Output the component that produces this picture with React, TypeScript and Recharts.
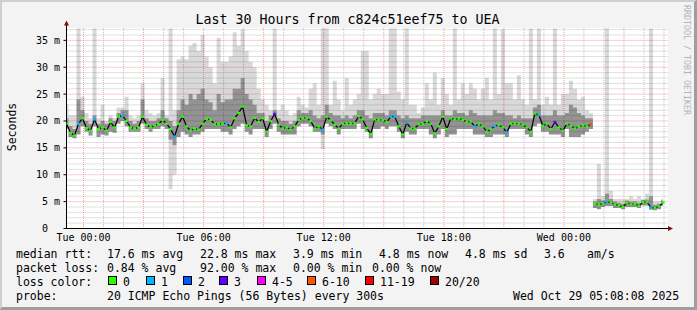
import React from 'react';
import { ComposedChart, Area, Line, XAxis, YAxis, CartesianGrid } from 'recharts';

// time axis: hours relative to Tue 00:00, one sample every 12 minutes
const START_HOUR = -0.85;
const STEP_HOURS = 0.2;
const GAP_INDEX = 132; // after the gap the target answers at ~4.5 ms

const medianMs = [
  19.5, 17.8, 17.3, 19.5, 20.5, 18.7, 18.2, 20.3, 18.5, 18.8,
  18.2, 19.8, 18.8, 20.8, 21.0, 20.0, 18.8, 18.6, 18.8, 20.8,
  19.3, 18.8, 19.2, 19.4, 20.2, 19.5, 18.5, 17.1, 19.5, 20.8,
  19.0, 18.2, 18.6, 18.4, 19.5, 20.4, 20.2, 19.4, 19.4, 19.5,
  19.6, 18.8, 20.5, 21.5, 22.7, 19.2, 19.0, 20.6, 19.8, 20.5,
  18.0, 20.0, 21.3, 19.3, 18.6, 18.8, 18.4, 19.0, 20.2, 20.6,
  20.5, 20.0, 18.6, 19.0, 18.4, 20.8, 20.1, 19.3, 18.6, 19.5,
  19.6, 19.5, 19.6, 20.9, 20.3, 18.7, 17.6, 20.3, 20.2, 20.2,
  19.8, 20.8, 20.8, 19.0, 17.5, 19.7, 18.6, 18.6, 19.4, 19.4,
  20.0, 19.5, 17.7, 19.0, 20.8, 18.5, 20.5, 20.3, 20.5, 20.2,
  19.8, 19.9, 19.0, 19.5, 19.0, 18.0, 18.5, 19.0, 19.3, 18.8,
  17.9, 19.5, 19.5, 19.5, 19.3, 18.8, 18.0, 21.4, 21.1, 19.1,
  19.5, 18.5, 19.8, 18.8, 18.2, 19.5, 19.1, 18.6, 18.9, 19.2,
  19.0, 19.4, 4.6, 4.4, 4.7, 4.9, 4.8, 4.5, 4.3, 4.0,
  4.8, 4.5, 4.6, 4.2, 4.9, 4.9, 3.9, 3.8, 4.1, 4.8,
];

// top of the lightest smoke (slowest ping)
const maxMs = [
  23, 21, 21, 37.2, 24.5, 21.5, 20.5, 37.2, 20.5, 23,
  20, 21, 20.5, 22.5, 22.5, 24.5, 21, 20.5, 21, 27,
  22, 21.5, 21, 21.5, 28, 21, 37.2, 22, 31.5, 32,
  31.5, 34, 34.5, 33, 36, 32, 30, 27, 35.5, 31,
  31, 32, 36.5, 34, 37, 33, 31, 30, 26, 24,
  23, 22, 37.2, 22, 23, 22, 21, 21.5, 24.5, 23,
  22.5, 26, 27, 23, 37.2, 37.2, 23, 27.5, 24, 22,
  28, 23, 24, 25, 33, 33, 24, 25, 26, 25,
  25, 37.2, 37.2, 25.5, 24, 37.2, 23, 23, 21.5, 22.5,
  27, 24, 29, 23, 28, 25, 23, 37.2, 24, 27,
  25, 27, 26, 24, 26, 28, 24, 37.2, 25, 37,
  27, 27, 24, 28.5, 24, 23, 37.2, 24, 37.2, 23,
  24.5, 23, 37.2, 23, 25, 25, 27.5, 26, 24, 24.5,
  22, 21.5, 5.5, 12, 6, 37.2, 7, 5.5, 5.5, 5.5,
  5.5, 6, 5.5, 6, 5.5, 6.5, 37.2, 5, 5, 5.5,
];

// top of the dark smoke core
const upperMs = [
  20.5, 19, 18.5, 24, 22, 20, 19.5, 21, 19.5, 20,
  19.5, 20.5, 20, 21.5, 22, 22, 20, 19.5, 20, 24,
  20.5, 20, 20, 20.5, 22, 20.5, 20, 19, 22, 24,
  23, 25, 24, 25, 26, 24, 23.5, 22, 25, 23.5,
  24, 24, 26, 26, 28, 25, 24, 23, 21.5, 21.5,
  20, 21, 22, 20.5, 20, 20, 19.5, 20, 22, 21.5,
  21.5, 22, 21, 20.5, 21, 23, 21.5, 21, 21, 20.5,
  21, 20.5, 21, 22, 22, 21, 20.5, 21.5, 21.5, 21.5,
  21, 22, 22, 21, 20.5, 21, 20.5, 20.5, 20.5, 21,
  21, 21, 21, 21, 22, 21, 21, 22, 21.5, 21.5,
  21, 22, 21.5, 21, 21, 21, 21, 22, 21.5, 21.5,
  21, 21, 20.5, 21, 20.5, 20.5, 20.5, 22.5, 23, 21,
  21, 21, 22, 21, 21, 21.5, 23, 22.5, 21.5, 21,
  20.5, 20.5, 5, 5.5, 5.2, 6.5, 5.5, 5, 4.8, 4.6,
  5.2, 5, 5, 4.8, 5.3, 5.4, 6, 4.4, 4.6, 5.2,
];

// bottom of the dark smoke core
const lowerMs = [
  18.5, 17, 16.8, 17.5, 19, 18, 17.3, 19, 17, 17.5,
  17.3, 18, 17.8, 19.5, 20, 19, 18, 18, 18, 19.5,
  18.5, 18, 18.5, 18.5, 19, 18.5, 16.5, 15.5, 17, 18,
  17.5, 17, 17.5, 17.5, 18, 18.5, 18.5, 18.5, 18.5, 18,
  18, 17.5, 18.5, 19, 19.5, 18, 17.5, 18.5, 18.5, 18.5,
  17, 18.5, 19.5, 18, 17.5, 17.5, 17.5, 17.5, 19, 19.5,
  19.5, 19, 18, 18, 17.5, 19.5, 19, 18.5, 17.5, 18.5,
  18.5, 18.5, 18.5, 19.5, 18.5, 18, 16.8, 18.5, 18.5, 19,
  18.5, 19, 19, 18, 16.8, 18, 17.5, 17.5, 18.5, 18.5,
  18.5, 17.5, 16.8, 17.5, 18.5, 17, 17.5, 17.5, 18.5, 18.5,
  18.5, 18.5, 17.5, 17.5, 17.5, 17, 17, 17.5, 17.5, 17.5,
  17, 18.5, 18.5, 18.5, 18.5, 17.5, 17, 19, 19.5, 18,
  18, 17.5, 17.5, 17.5, 17, 18.5, 17, 17, 17, 17.5,
  18, 18.5, 3.8, 3.6, 4, 4.2, 4.2, 3.8, 3.8, 3.6,
  4, 4, 4, 3.8, 4.3, 4.3, 3.5, 3.4, 3.6, 4.2,
];

// bottom of the lightest smoke (fastest ping)
const minMs = [
  18.5, 17, 16.8, 17.5, 19, 18, 17.3, 19, 17, 17.5,
  17.3, 18, 17.8, 19.5, 20, 19, 18, 18, 18, 19.5,
  18.5, 18, 18.5, 18.5, 19, 18.5, 7.3, 10, 17, 18,
  17.5, 17, 17.5, 17.5, 18, 18.5, 18.5, 18.5, 18.5, 18,
  18, 17.5, 18.5, 19, 19.5, 18, 17.5, 18.5, 18.5, 18.5,
  17, 18.5, 19.5, 18, 17.5, 17.5, 17.5, 17.5, 19, 19.5,
  19.5, 19, 18, 18, 14.8, 19.5, 19, 18.5, 17.5, 18.5,
  18.5, 18.5, 18.5, 19.5, 18.5, 18, 16.8, 18.5, 18.5, 19,
  18.5, 19, 19, 18, 16.8, 18, 17.5, 17.5, 18.5, 18.5,
  18.5, 17.5, 16.8, 17.5, 18.5, 17, 17.5, 17.5, 18.5, 18.5,
  18.5, 18.5, 17.5, 17.5, 17.5, 17, 17, 17.5, 17.5, 17.5,
  17, 18.5, 18.5, 18.5, 18.5, 17.5, 17, 19, 19.5, 18,
  18, 17.5, 17.5, 17.5, 17, 18.5, 17, 17, 17, 17.5,
  18, 18.5, 3.8, 3.6, 4, 4.2, 4.2, 3.8, 3.8, 3.6,
  4, 4, 4, 3.8, 4.3, 4.3, 3.5, 3.4, 3.6, 4.2,
];

// [sample index, loss bucket]
const lossMarks: [number, number][] = [
  [3, 1], [7, 1], [14, 1], [27, 1], [40, 1], [52, 3], [64, 1], [81, 1], [82, 1],
  [85, 1], [102, 1], [107, 1], [110, 1], [118, 1], [122, 3], [131, 5], [135, 1], [146, 1],
];

const lossBuckets = ['0', '1', '2', '3', '4-5', '6-10', '11-19', '20/20'];
const lossColors = ['#26ff00', '#00b8ff', '#0059ff', '#5e00ff', '#ff00ff', '#ff5500', '#ff0000', '#a10000'];
const lossLegendBoxX = [108, 146, 183, 219, 257, 307, 365, 430];

const xTickHours = [0, 6, 12, 18, 24];
const xTickLabels = ['Tue 00:00', 'Tue 06:00', 'Tue 12:00', 'Tue 18:00', 'Wed 00:00'];
const yTicks = [0, 5, 10, 15, 20, 25, 30, 35];

const minorXHours: number[] = [];
const majorXHours: number[] = [];
for (let h = 0; h <= 29; h++) (h % 3 === 0 ? majorXHours : minorXHours).push(h);
const minorYMs: number[] = [];
const majorYMs: number[] = [];
for (let v = 1; v <= 37; v++) (v % 5 === 0 ? majorYMs : minorYMs).push(v);

const lossByIndex = new Map<number, number>(lossMarks);
const rows = medianMs.map((m, i) => ({
  t: Number((START_HOUR + STEP_HOURS * i).toFixed(2)),
  light: [minMs[i], maxMs[i]],
  core: [lowerMs[i], upperMs[i]],
  medA: i < GAP_INDEX ? m : null,
  medB: i >= GAP_INDEX ? m : null,
  loss: lossByIndex.get(i) ?? 0,
}));

const FONT = '"DejaVu Sans Mono", "Liberation Mono", monospace';

const XTick = (props: any) => {
  const { x, payload } = props;
  const idx = xTickHours.indexOf(payload.value);
  return (
    <text x={x} y={241} textAnchor="middle" fontFamily={FONT} fontSize={10} fill="#000">
      {xTickLabels[idx]}
    </text>
  );
};

const YTick = (props: any) => {
  const { y, payload } = props;
  const v = payload.value;
  return (
    <text x={v === 0 ? 48 : 60} y={y + 3.5} textAnchor="end" fontFamily={FONT} fontSize={10} fill="#000">
      {v === 0 ? '0' : `${v} m`}
    </text>
  );
};

const lossDot = (props: any) => {
  const { cx, cy, payload, index } = props;
  if (cx == null || cy == null || payload == null) return <g key={`d${index}`} />;
  return <rect key={`d${index}`} x={cx - 1.5} y={cy - 1.2} width={3} height={2.4} fill={lossColors[payload.loss]} />;
};

const txt = (x: number, y: number, s: string, key: string) => (
  <text key={key} x={x} y={y} fontFamily={FONT} fontSize={11.5} fill="#000">{s}</text>
);

export default function App() {
  return (
    <div
      style={{
        position: 'absolute', left: 0, top: 0, width: 697, height: 310, boxSizing: 'border-box',
        background: '#f3f3f3', borderTop: '2px solid #cfcfcf', borderLeft: '2px solid #cfcfcf',
        borderRight: '3px solid #9e9e9e', borderBottom: '3px solid #9e9e9e', overflow: 'hidden',
      }}
    >
      <div style={{ position: 'absolute', left: -2, top: -2 }}>
        <ComposedChart width={697} height={310} data={rows} margin={{ top: 28, right: 29, bottom: 61.5, left: 0 }}>
          <CartesianGrid
            fill="#ffffff"
            stroke="#c2c2c2"
            strokeDasharray="1 1"
            horizontalValues={minorYMs}
            verticalValues={minorXHours}
          />
          <CartesianGrid
            fill="none"
            stroke="#eca0a0"
            strokeDasharray="1 1"
            horizontalValues={majorYMs}
            verticalValues={majorXHours}
          />
          <XAxis
            dataKey="t"
            type="number"
            domain={[-0.85, 29.2]}
            ticks={xTickHours}
            allowDataOverflow
            height={20}
            axisLine={{ stroke: '#000' }}
            tickLine={false}
            tick={XTick}
            interval={0}
          />
          <YAxis
            type="number"
            domain={[0, 37.3]}
            ticks={yTicks}
            allowDataOverflow
            width={66.5}
            axisLine={{ stroke: '#000' }}
            tickLine={{ stroke: '#000' }}
            tickSize={3}
            tick={YTick}
            interval={0}
          />
          <Area dataKey="light" type="step" stroke="none" fill="#000000" fillOpacity={0.15} isAnimationActive={false} dot={false} activeDot={false} />
          <Area dataKey="core" type="step" stroke="none" fill="#000000" fillOpacity={0.32} isAnimationActive={false} dot={false} activeDot={false} />
          <Line dataKey="medA" type="linear" stroke="#000" strokeWidth={1.2} dot={lossDot} activeDot={false} isAnimationActive={false} />
          <Line dataKey="medB" type="linear" stroke="#000" strokeWidth={1.2} dot={lossDot} activeDot={false} isAnimationActive={false} />
        </ComposedChart>
      </div>
      <svg width={697} height={310} style={{ position: 'absolute', left: -2, top: -2, pointerEvents: 'none' }}>
        <text x={347.5} y={24} textAnchor="middle" fontFamily={FONT} fontSize={13.3} fill="#000">
          Last 30 Hours from c824c51eef75 to UEA
        </text>
        <text x={15.5} y={127} textAnchor="middle" fontFamily={FONT} fontSize={11.5} fill="#000" transform="rotate(-90 15.5 127)">
          Seconds
        </text>
        <text x={684} y={5} fontFamily={FONT} fontSize={8.3} fill="#b4b4b4" transform="rotate(90 684 5)">
          RRDTOOL / TOBI OETIKER
        </text>
        <line x1={66.5} y1={24} x2={66.5} y2={28} stroke="#000" />
        <polygon points="64,25.5 69,25.5 66.5,20.5" fill="#7f1010" />
        <polygon points="668,226 668,231 673,228.5" fill="#7f1010" />
        {txt(16, 258, 'median rtt:', 'a0')}
        {txt(107, 258, '17.6 ms avg', 'a1')}
        {txt(200, 258, '22.8 ms max', 'a2')}
        {txt(293, 258, '3.9 ms min', 'a3')}
        {txt(379, 258, '4.8 ms now', 'a4')}
        {txt(465, 258, '4.8 ms sd', 'a5')}
        {txt(544, 258, '3.6', 'a6')}
        {txt(587, 258, 'am/s', 'a7')}
        {txt(16, 272, 'packet loss:', 'b0')}
        {txt(107, 272, '0.84 % avg', 'b1')}
        {txt(200, 272, '92.00 % max', 'b2')}
        {txt(293, 272, '0.00 % min', 'b3')}
        {txt(372, 272, '0.00 % now', 'b4')}
        {txt(16, 286, 'loss color:', 'c0')}
        {lossBuckets.map((b, i) => (
          <g key={`lc${i}`}>
            <rect x={lossLegendBoxX[i] + 0.5} y={276.5} width={8} height={8} fill={lossColors[i]} stroke="#000" strokeWidth={1} />
            {txt(lossLegendBoxX[i] + 15, 286, b, `lt${i}`)}
          </g>
        ))}
        {txt(16, 300, 'probe:', 'd0')}
        {txt(107, 300, '20 ICMP Echo Pings (56 Bytes) every 300s', 'd1')}
        {txt(513, 300, 'Wed Oct 29 05:08:08 2025', 'd2')}
      </svg>
    </div>
  );
}
